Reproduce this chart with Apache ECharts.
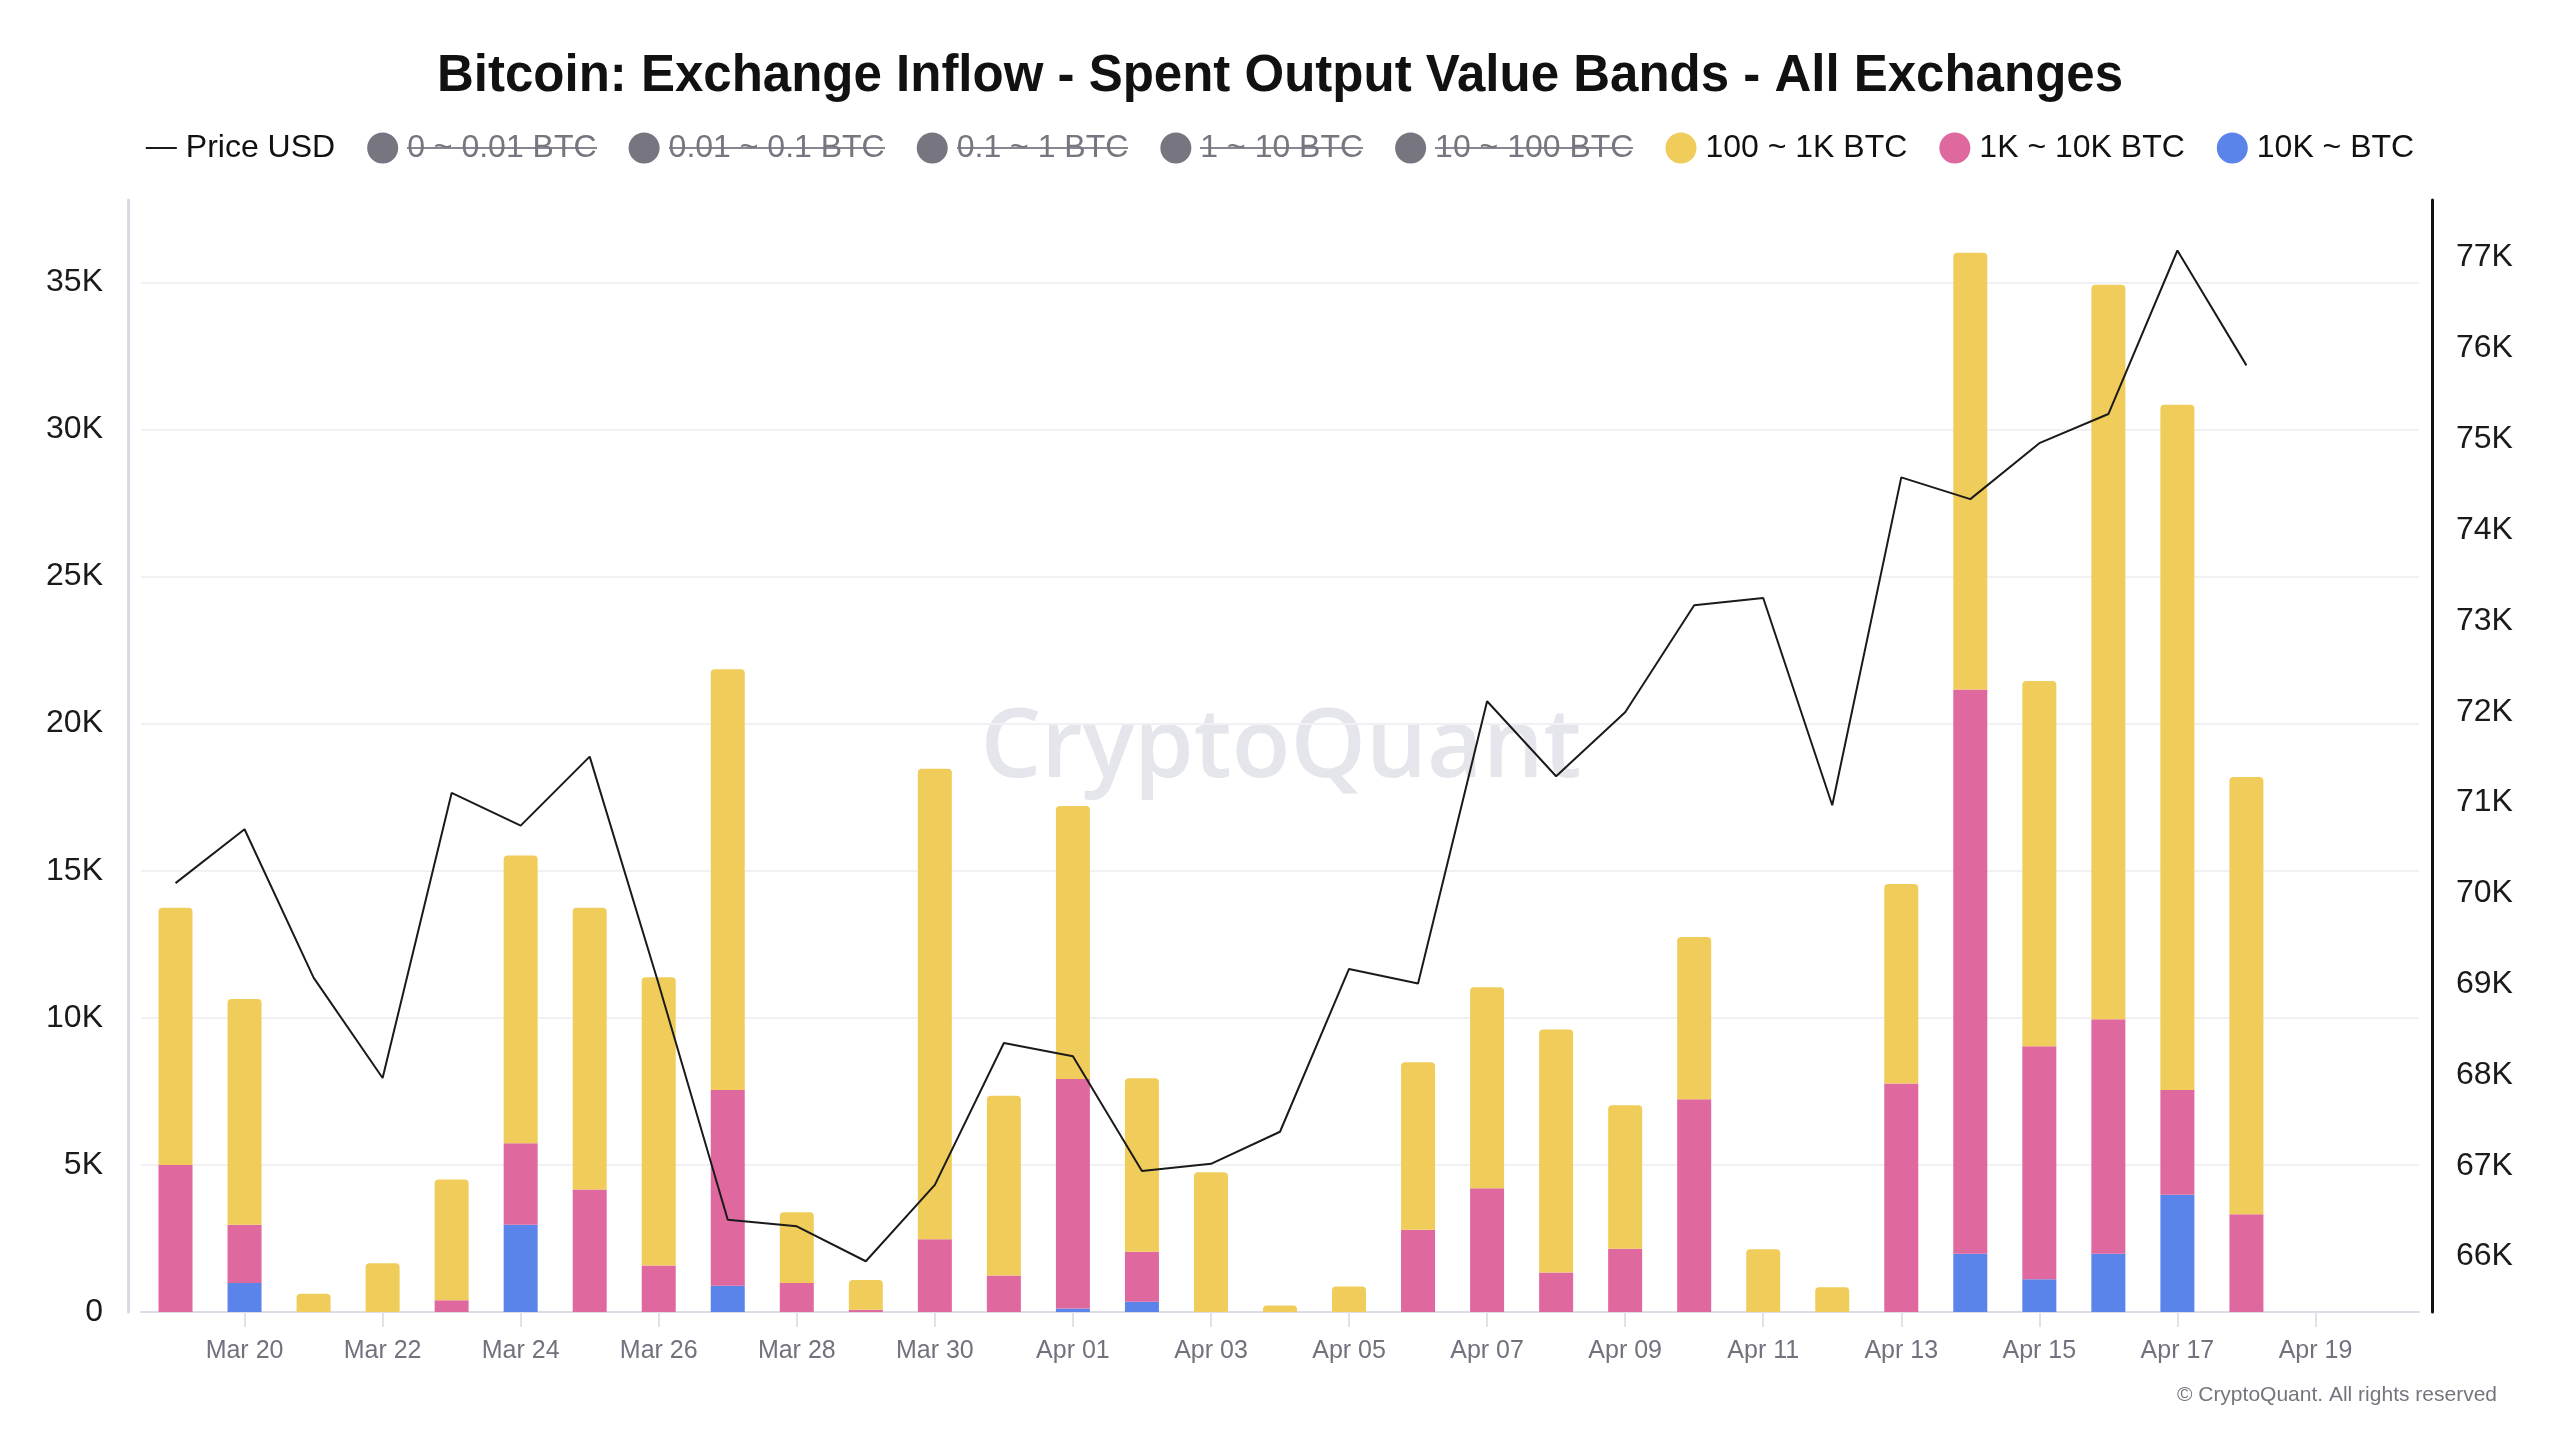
<!DOCTYPE html>
<html>
<head>
<meta charset="utf-8">
<script src="https://cdn.jsdelivr.net/npm/echarts@6/dist/echarts.min.js"></script>
<style>
html,body{margin:0;padding:0;background:#ffffff;}
#c{width:2560px;height:1440px;}
</style>
</head>
<body>
<div id="c"></div>
<script>
// ---- data ----
const categories = ['Mar 19','Mar 20','Mar 21','Mar 22','Mar 23','Mar 24','Mar 25','Mar 26','Mar 27','Mar 28','Mar 29','Mar 30','Mar 31',
  'Apr 01','Apr 02','Apr 03','Apr 04','Apr 05','Apr 06','Apr 07','Apr 08','Apr 09','Apr 10','Apr 11','Apr 12','Apr 13','Apr 14','Apr 15','Apr 16','Apr 17','Apr 18','Apr 19','Apr 20'];
const priceUSD = [70113,70706,69072,67967,71106,70746,71506,69000,66406,66334,65949,66790,68352,
  68207,66942,67022,67375,69168,69008,72115,71290,71995,73172,73252,70970,74581,74341,74957,75278,77079,75814];
const band10KPlus = [0,990,0,0,0,2970,0,0,890,0,0,0,0,
  120,350,0,0,0,0,0,0,0,0,0,0,0,1980,1110,1980,3985,0];
const band1Kto10K = [5000,1980,0,0,400,2770,4160,1580,6660,990,75,2475,1240,
  7800,1700,0,0,0,2800,4210,1340,2150,7230,0,0,7770,19180,7920,7970,3565,3320];
const band100to1K = [8740,7670,620,1660,4100,9780,9580,9800,14300,2400,1010,15990,6110,
  9280,5900,4750,220,870,5690,6830,8260,4880,5520,2130,840,6780,14850,12420,24970,23290,14870];
const hiddenBandNames = ['0 ~ 0.01 BTC','0.01 ~ 0.1 BTC','0.1 ~ 1 BTC','1 ~ 10 BTC','10 ~ 100 BTC'];
const shownBandNames = ['100 ~ 1K BTC','1K ~ 10K BTC','10K ~ BTC'];
const leftTicksK = [0,5,10,15,20,25,30,35];

// ---- styling ----
const FONT = '"Liberation Sans", Arial, sans-serif';
const GRAY = '#77757f';
const YELLOW = '#f0cd5a', PINK = '#df689f', BLUE = '#5b84ea';

// strikethrough image used behind disabled legend texts
const cv = document.createElement('canvas');
cv.width = 8; cv.height = 40;
const cx = cv.getContext('2d');
cx.fillStyle = GRAY;
cx.fillRect(0, 19, 8, 2);
const strikeImg = cv.toDataURL();

const selected = {};
hiddenBandNames.forEach(n => selected[n] = false);

const series = [];
series.push({
  name: 'Price USD', type: 'line', yAxisIndex: 1, data: priceUSD,
  symbol: 'none', showSymbol: false, z: 5,
  lineStyle: { color: '#1a1a1a', width: 2 },
  itemStyle: { color: '#1a1a1a' }
});
hiddenBandNames.forEach(n => series.push({
  name: n, type: 'bar', stack: 'bands', data: [],
  itemStyle: { color: GRAY }
}));
series.push({
  name: '10K ~ BTC', type: 'bar', stack: 'bands', data: band10KPlus,
  barWidth: 34, itemStyle: { color: BLUE }
});
series.push({
  name: '1K ~ 10K BTC', type: 'bar', stack: 'bands', data: band1Kto10K,
  barWidth: 34, itemStyle: { color: PINK }
});
series.push({
  name: '100 ~ 1K BTC', type: 'bar', stack: 'bands', data: band100to1K,
  barWidth: 34, itemStyle: { color: YELLOW, borderRadius: [4,4,0,0] }
});

const legendData = [{ name: 'Price USD', icon: 'path://M0,0H31V2H0Z', itemStyle: { color: '#1a1a1a' } }]
  .concat(hiddenBandNames.concat(shownBandNames).map(n => ({ name: n, icon: 'circle' })));

const chart = echarts.init(document.getElementById('c'), null, { renderer: 'canvas' });
chart.setOption({
  backgroundColor: '#ffffff',
  animation: false,
  textStyle: { fontFamily: FONT },
  title: {
    text: 'Bitcoin: Exchange Inflow - Spent Output Value Bands - All Exchanges',
    left: 'center', top: 46,
    textStyle: { fontFamily: FONT, fontSize: 51, fontWeight: 'bold', color: '#111111' }
  },
  legend: {
    data: legendData,
    selected: selected,
    left: 'center', top: 127,
    itemWidth: 31, itemHeight: 31, itemGap: 32,
    symbolKeepAspect: true,
    inactiveColor: GRAY,
    inactiveBorderWidth: 0,
    formatter: function (name) {
      return hiddenBandNames.indexOf(name) >= 0 ? '{s|' + name + '}' : name;
    },
    textStyle: {
      fontFamily: FONT, fontSize: 32, color: '#111111', padding: [0, 0, 0, 4],
      rich: {
        s: { fontFamily: FONT, fontSize: 32, color: GRAY, backgroundColor: { image: strikeImg } }
      }
    }
  },
  grid: { left: 141, right: 141, top: 200, bottom: 128, containLabel: false },
  xAxis: {
    type: 'category',
    data: categories,
    boundaryGap: true,
    axisLine: { show: true, lineStyle: { color: '#dcdce6', width: 2 } },
    axisTick: {
      show: true, alignWithLabel: true, length: 15,
      interval: function (i) { return i % 2 === 1; },
      lineStyle: { color: '#e1e1ea', width: 2 }
    },
    axisLabel: {
      interval: function (i) { return i % 2 === 1; },
      fontFamily: FONT, fontSize: 25, color: '#72717e', margin: 27
    },
    splitLine: { show: false }
  },
  yAxis: [
    {
      type: 'value', position: 'left', offset: 13,
      min: 0, max: 37800, interval: 5000,
      axisLine: { show: true, lineStyle: { color: '#d9d9e4', width: 3 } },
      axisTick: { show: false },
      axisLabel: {
        fontFamily: FONT, fontSize: 32, color: '#1a1a1a', margin: 25, showMaxLabel: false,
        formatter: function (v) { return v === 0 ? '0' : (leftTicksK.indexOf(v / 1000) >= 0 ? (v / 1000) + 'K' : ''); }
      },
      splitLine: { show: true, showMaxLine: false, lineStyle: { color: '#f1f1f5', width: 2 } }
    },
    {
      type: 'value', position: 'right', offset: 13,
      min: 65390, max: 77635, splitNumber: 12,
      axisLine: { show: true, lineStyle: { color: '#111111', width: 3 } },
      axisTick: { show: false },
      axisLabel: {
        fontFamily: FONT, fontSize: 32, color: '#1a1a1a', margin: 24,
        showMinLabel: false, showMaxLabel: false,
        formatter: function (v) { return (v % 1000 === 0) ? (v / 1000) + 'K' : ''; }
      },
      splitLine: { show: false }
    }
  ],
  graphic: [
    {
      type: 'text', x: 1281, y: 750, z: 0, silent: true,
      style: {
        text: 'CryptoQuant', fontFamily: '"Open Sans", sans-serif', fontWeight: 600, fontSize: 96,
        fill: '#e5e5ec', align: 'center', verticalAlign: 'middle'
      }
    },
    {
      type: 'text', right: 63, top: 1385, silent: true,
      style: { text: '© CryptoQuant. All rights reserved', fontFamily: FONT, fontSize: 21, fill: '#76757f' }
    }
  ],
  series: series
});
</script>
</body>
</html>
